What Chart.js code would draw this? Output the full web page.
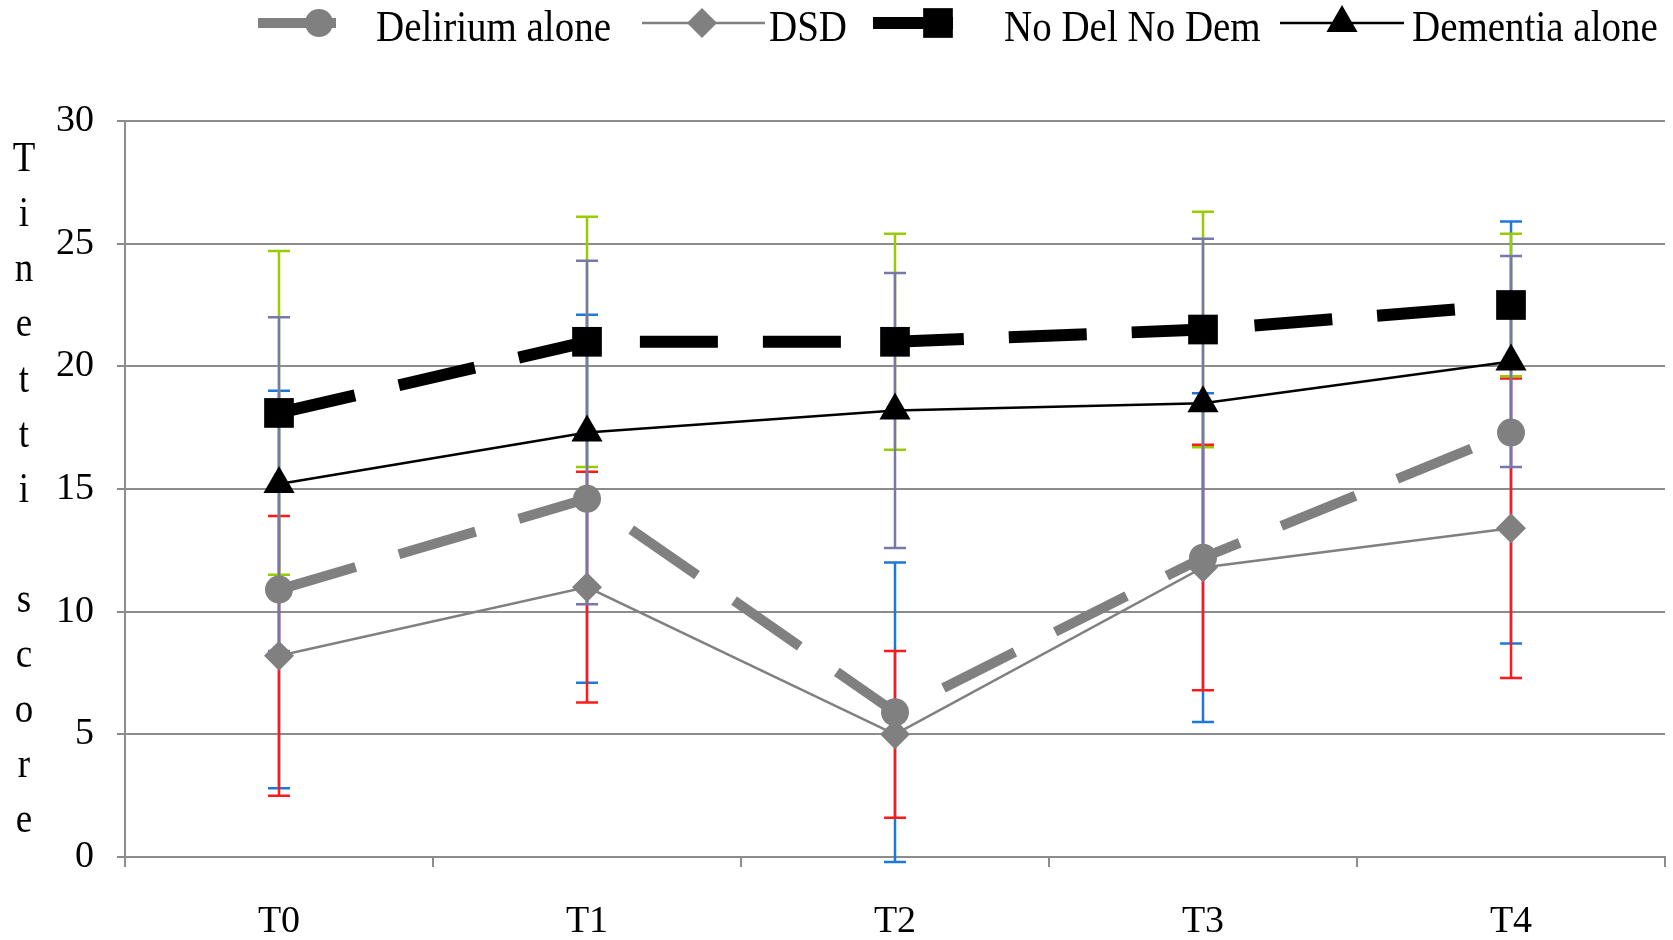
<!DOCTYPE html>
<html>
<head>
<meta charset="utf-8">
<script src="https://cdn.jsdelivr.net/npm/chart.js@4.4.1/dist/chart.umd.min.js"></script>
<style>
  html, body { margin: 0; padding: 0; background: #fff; }
  #wrap { width: 1673px; height: 940px; }
</style>
</head>
<body>
<div id="wrap"><canvas id="tinettiChart"></canvas></div>
<script>
// Données
const categories = ['T0', 'T1', 'T2', 'T3', 'T4'];
const seriesNames = ['Delirium alone', 'DSD', 'No Del No Dem', 'Dementia alone'];
const deliriumAlone = [10.9, 14.6, 5.9, 12.2, 17.3];
const deliriumAloneSd = [8.1, 7.5, 6.1, 6.7, 8.6];
const dsd = [8.2, 11.0, 5.0, 11.8, 13.4];
const dsdSd = [5.7, 4.7, 3.4, 5.0, 6.1];
const noDelNoDem = [18.1, 21.0, 21.0, 21.5, 22.5];
const noDelNoDemSd = [6.6, 5.1, 4.4, 4.8, 2.9];
const dementiaAlone = [15.2, 17.3, 18.2, 18.5, 20.2];
const dementiaAloneSd = [6.8, 7.0, 5.6, 6.7, 4.3];
const yTicks = [0, 5, 10, 15, 20, 25, 30];
const yTitle = 'Tinetti score';

const serif = "'Liberation Serif', 'Times New Roman', serif";
const gridGray = '#8c8c8c';

Chart.defaults.font.family = serif;
Chart.defaults.color = '#000';

// Barres d'erreur (écart-type) dessinées sous les courbes
const errorBars = {
    id: 'errorBars',
    beforeDatasetsDraw(chart) {
        const { ctx, scales: { x, y } } = chart;
        ctx.save();
        ctx.lineWidth = 2.5;
        chart.data.datasets.forEach((ds) => {
            ctx.strokeStyle = ds.errorColor;
            ds.data.forEach((v, j) => {
                const px = x.getPixelForValue(j);
                const top = y.getPixelForValue(v + ds.errors[j]);
                const bot = y.getPixelForValue(v - ds.errors[j]);
                ctx.beginPath();
                ctx.moveTo(px, top); ctx.lineTo(px, bot);
                ctx.moveTo(px - 11, top); ctx.lineTo(px + 11, top);
                ctx.moveTo(px - 11, bot); ctx.lineTo(px + 11, bot);
                ctx.stroke();
            });
        });
        ctx.restore();
    }
};

// texte un peu étiré en hauteur, comme dans l'original
function tallText(ctx, txt, x, y, stretch) {
    ctx.save();
    ctx.translate(x, y);
    ctx.scale(1, stretch);
    ctx.fillText(txt, 0, 0);
    ctx.restore();
}

// Légende maison (trait + marqueur) et titre vertical lettre par lettre
const legendAndTitle = {
    id: 'legendAndTitle',
    afterDraw(chart) {
        const ctx = chart.ctx;
        const spots = [
            { x1: 258, x2: 336, mx: 319, tx: 376 },
            { x1: 642, x2: 765, mx: 702, tx: 769 },
            { x1: 873, x2: 953, mx: 938, tx: 1004 },
            { x1: 1280, x2: 1404, mx: 1342, tx: 1412 }
        ];
        ctx.save();
        chart.data.datasets.forEach((ds, i) => {
            const s = spots[i];
            const ly = 23;
            ctx.strokeStyle = ds.borderColor;
            ctx.fillStyle = ds.borderColor;
            ctx.lineWidth = ds.borderWidth;
            ctx.beginPath();
            ctx.moveTo(s.x1, ly); ctx.lineTo(s.x2, ly);
            ctx.stroke();
            Chart.helpers.drawPoint(ctx, {
                pointStyle: ds.pointStyle, radius: ds.pointRadius, rotation: 0, borderWidth: 0
            }, s.mx, ly);
            ctx.fillStyle = '#000';
            ctx.font = '39px ' + serif;
            ctx.textBaseline = 'alphabetic';
            ctx.textAlign = 'left';
            tallText(ctx, ds.label, s.tx, 41, 1.15);
        });

        ctx.font = '37px ' + serif;
        ctx.textAlign = 'center';
        ctx.textBaseline = 'middle';
        yTitle.split('').forEach((c, k) => {
            tallText(ctx, c, 24, 160 + k * 55.1, 1.15);
        });
        ctx.restore();
    }
};

const ctx = document.getElementById('tinettiChart').getContext('2d');
new Chart(ctx, {
    type: 'line',
    data: {
        labels: categories,
        datasets: [
            {
                label: seriesNames[0], data: deliriumAlone, errors: deliriumAloneSd, errorColor: '#1e78dc',
                borderColor: '#808080', borderWidth: 10, borderDash: [80, 45],
                pointStyle: 'circle', pointRadius: 14, pointBackgroundColor: '#808080', pointBorderWidth: 0
            },
            {
                label: seriesNames[1], data: dsd, errors: dsdSd, errorColor: '#ff1a1a',
                borderColor: '#808080', borderWidth: 2.5,
                pointStyle: 'rectRot', pointRadius: 15, pointBackgroundColor: '#808080', pointBorderWidth: 0
            },
            {
                label: seriesNames[2], data: noDelNoDem, errors: noDelNoDemSd, errorColor: '#99cc00',
                borderColor: '#000000', borderWidth: 12, borderDash: [78, 45],
                pointStyle: 'rect', pointRadius: 21, pointBackgroundColor: '#000000', pointBorderWidth: 0
            },
            {
                label: seriesNames[3], data: dementiaAlone, errors: dementiaAloneSd, errorColor: '#7878a8',
                borderColor: '#000000', borderWidth: 2.5,
                pointStyle: 'triangle', pointRadius: 18, pointBackgroundColor: '#000000', pointBorderWidth: 0
            }
        ]
    },
    options: {
        responsive: true,
        maintainAspectRatio: false,
        animation: false,
        layout: { autoPadding: false, padding: { top: 121, right: 8, left: 0, bottom: 0 } },
        scales: {
            x: {
                offset: true,
                grid: { offset: true, drawOnChartArea: false, drawTicks: true, tickLength: 10, color: gridGray, lineWidth: 2 },
                border: { display: true, color: gridGray, width: 2 },
                ticks: { font: { size: 38 }, padding: 32, color: '#000' },
                afterFit: (s) => { s.height = 83; }
            },
            y: {
                min: 0,
                max: 30,
                afterBuildTicks: (s) => { s.ticks = yTicks.map(v => ({ value: v })); },
                grid: { color: gridGray, lineWidth: 2, tickLength: 8 },
                border: { display: true, color: gridGray, width: 2 },
                ticks: { font: { size: 38 }, padding: 23, color: '#000' },
                afterFit: (s) => { s.width = 125; }
            }
        },
        plugins: {
            legend: { display: false },
            tooltip: { enabled: false }
        }
    },
    plugins: [errorBars, legendAndTitle]
});
</script>
</body>
</html>
